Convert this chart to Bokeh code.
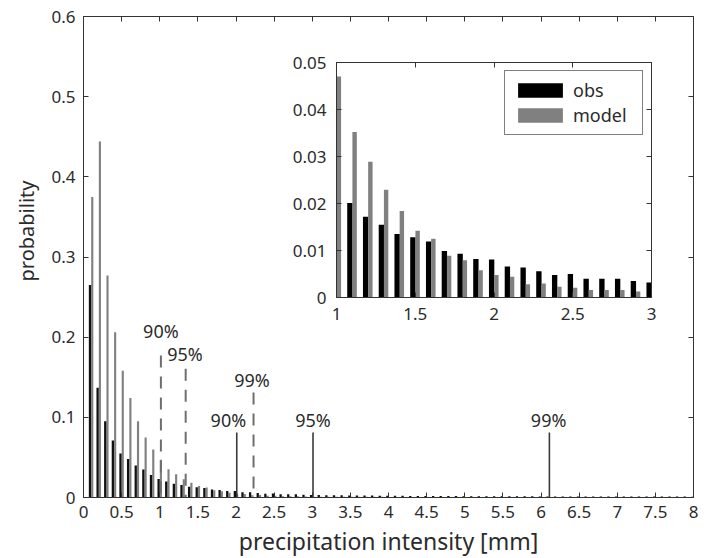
from bokeh.plotting import figure
from bokeh.models import (ColumnDataSource, FixedTicker, NumeralTickFormatter,
                          LinearAxis, Range1d, Legend, LegendItem, Title,
                          CustomLabelingPolicy)
from bokeh.layouts import column
from bokeh.transform import dodge
from bokeh.embed import file_html
from bokeh.resources import INLINE
from bokeh.core.properties import value

# ---------------- data ----------------
intensity = [round(0.1 * k, 1) for k in range(1, 81)]  # bin centres [mm]

obs = [0.265, 0.137, 0.095, 0.071, 0.055, 0.048, 0.040, 0.035, 0.028, 0.023,
       0.0201, 0.0172, 0.0155, 0.0135, 0.0128, 0.0119, 0.0099, 0.0093, 0.0082, 0.0081,
       0.0066, 0.0064, 0.0056, 0.0048, 0.0050, 0.0040, 0.0040, 0.0040, 0.0035, 0.0032,
       0.0030, 0.0029, 0.0028, 0.0027, 0.0026, 0.0025, 0.0024, 0.0024, 0.0023, 0.0022,
       0.0021, 0.0021, 0.0020, 0.0020, 0.0019, 0.0019, 0.0018, 0.0018, 0.0018, 0.0017,
       0.0017, 0.0017, 0.0016, 0.0016, 0.0016, 0.0015, 0.0015, 0.0015, 0.0015, 0.0014,
       0.0014, 0.0014, 0.0014, 0.0013, 0.0013, 0.0013, 0.0013, 0.0013, 0.0012, 0.0012,
       0.0012, 0.0012, 0.0012, 0.0011, 0.0011, 0.0011, 0.0011, 0.0011, 0.0011, 0.0010]

model = [0.375, 0.444, 0.277, 0.206, 0.158, 0.124, 0.095, 0.075, 0.060, 0.047,
         0.0352, 0.0289, 0.0229, 0.0184, 0.0142, 0.0125, 0.0089, 0.0079, 0.0058, 0.0048,
         0.0044, 0.0028, 0.0030, 0.0023, 0.0021, 0.0016, 0.0016, 0.0016, 0.0013, 0.0010,
         0.0010, 0.0010, 0.0009, 0.0009, 0.0009, 0.0008, 0.0008, 0.0008, 0.0008, 0.0007,
         0.0007, 0.0007, 0.0007, 0.0007, 0.0006, 0.0006, 0.0006, 0.0006, 0.0006, 0.0006,
         0.0006, 0.0005, 0.0005, 0.0005, 0.0005, 0.0005, 0.0005, 0.0005, 0.0005, 0.0005,
         0.0005, 0.0005, 0.0004, 0.0004, 0.0004, 0.0004, 0.0004, 0.0004, 0.0004, 0.0004,
         0.0004, 0.0004, 0.0004, 0.0004, 0.0004, 0.0004, 0.0004, 0.0004, 0.0004, 0.0004]

pct_labels = ["90%", "95%", "99%"]
obs_pct_x = [2.01, 3.01, 6.11]          # observed percentiles (solid)
model_pct_x = [1.015, 1.34, 2.23]       # model percentiles (dashed)

main_xticks = [0, 0.5, 1, 1.5, 2, 2.5, 3, 3.5, 4, 4.5, 5, 5.5, 6, 6.5, 7, 7.5, 8]
main_yticks = [0, 0.1, 0.2, 0.3, 0.4, 0.5, 0.6]
inset_xticks = [1, 1.5, 2, 2.5, 3]
inset_yticks = [0, 0.01, 0.02, 0.03, 0.04, 0.05]

# ---------------- styling ----------------
FONT = "Noto Sans"
TXT = "#2b2b2b"
AX = "#333333"
OBS_C = "#111111"
MOD_C = "#808080"

# marker heights / label placement (layout only)
obs_line_top = [0.081, 0.081, 0.081]
model_line_top = [0.177, 0.1605, 0.131]
obs_lab_x = [1.90, 3.01, 6.10]
obs_lab_y = [0.097, 0.097, 0.097]
model_lab_x = [1.015, 1.33, 2.21]
model_lab_y = [0.2075, 0.179, 0.146]

src = ColumnDataSource(dict(x=intensity, obs=obs, model=model))

NO_LABELS = CustomLabelingPolicy(code="return new Set()")


def style_axes(fig, xticks, yticks, xfmt, yfmt, fs, standoff):
    bottom, left = fig.below[0], fig.left[0]
    for ax in (bottom, left):
        ax.major_tick_in = 5
        ax.major_tick_out = 0
        ax.minor_tick_line_color = None
        ax.axis_line_color = AX
        ax.major_tick_line_color = AX
        ax.major_label_text_font = FONT
        ax.major_label_text_font_size = fs
        ax.major_label_text_color = TXT
        ax.major_label_standoff = standoff
    bottom.ticker = FixedTicker(ticks=xticks)
    left.ticker = FixedTicker(ticks=yticks)
    bottom.formatter = NumeralTickFormatter(format=xfmt)
    left.formatter = NumeralTickFormatter(format=yfmt)
    # mirrored axes: tick marks only
    for ticks, side in ((xticks, "above"), (yticks, "right")):
        ax = LinearAxis(ticker=FixedTicker(ticks=ticks), major_tick_in=5, major_tick_out=0,
                        minor_tick_line_color=None, axis_line_color=AX,
                        major_tick_line_color=AX, major_label_text_font_size="1px",
                        major_label_standoff=0, major_label_policy=NO_LABELS)
        fig.add_layout(ax, side)
    fig.xgrid.grid_line_color = None
    fig.ygrid.grid_line_color = None
    fig.outline_line_color = None
    return bottom, left


# ---------------- inset figure (placed first, main drawn transparently over it) ----
q = figure(frame_width=315, frame_height=235, x_range=Range1d(1, 3), y_range=Range1d(0, 0.05),
           output_backend="svg", toolbar_location=None, frame_align=False,
           min_border_left=53, min_border_right=17, min_border_top=24, min_border_bottom=38)
style_axes(q, inset_xticks, inset_yticks, "0.[0]", "0.[00]", "17px", 10)

r_obs = q.vbar(x=dodge("x", -0.015, range=q.x_range), top="obs", width=0.034, source=src,
               fill_color="black", line_color=None)
r_mod = q.vbar(x=dodge("x", 0.015, range=q.x_range), top="model", width=0.028, source=src,
               fill_color=MOD_C, line_color=None)

leg = Legend(items=[LegendItem(label="obs", renderers=[r_obs]),
                    LegendItem(label="model", renderers=[r_mod])],
             location="top_right", margin=8, padding=7, spacing=1,
             glyph_width=56, glyph_height=18, label_height=18, label_width=62,
             label_standoff=5,
             label_text_font=FONT, label_text_font_size="18px", label_text_color=TXT,
             border_line_color="black", border_line_width=1,
             background_fill_color="white", background_fill_alpha=1)
q.add_layout(leg, "center")

INSET_TOP, INSET_LEFT = 38, 283
INSET_H = 24 + 235 + 38
q.margin = (INSET_TOP, 0, -(INSET_TOP + INSET_H), INSET_LEFT)

# ---------------- main figure ----------------
p = figure(frame_width=610, frame_height=481, x_range=Range1d(0, 8), y_range=Range1d(0, 0.6),
           output_backend="svg", toolbar_location=None, frame_align=False,
           min_border_left=83, min_border_right=9, min_border_top=16, min_border_bottom=55)
p.background_fill_alpha = 0
p.border_fill_alpha = 0
bx, ly = style_axes(p, main_xticks, main_yticks, "0.[0]", "0.[0]", "17px", 8)
bx.axis_label = "precipitation intensity [mm]"
bx.axis_label_text_font = FONT
bx.axis_label_text_font_size = "23px"
bx.axis_label_text_font_style = "normal"
bx.axis_label_text_color = TXT
bx.axis_label_standoff = 4

p.add_layout(Title(text="probability", align="left", offset=216, vertical_align="top",
                   standoff=14, text_font=FONT, text_font_size="20px",
                   text_font_style="normal", text_color=TXT), "left")

p.vbar(x=dodge("x", 0.015, range=p.x_range), top="model", width=0.028, source=src,
       fill_color=MOD_C, line_color=None)
p.vbar(x=dodge("x", -0.015, range=p.x_range), top="obs", width=0.03, source=src,
       fill_color=OBS_C, line_color=None)

# percentile markers
p.segment(x0=model_pct_x, y0=model_line_top, x1=model_pct_x, y1=[0, 0, 0],
          line_color="#6e6e6e", line_width=2, line_dash="12 9")
p.segment(x0=obs_pct_x, y0=obs_line_top, x1=obs_pct_x, y1=[0, 0, 0],
          line_color="#3a3a3a", line_width=1.6)
for lx, lyy in ((model_lab_x, model_lab_y), (obs_lab_x, obs_lab_y)):
    p.text(x=lx, y=lyy, text=pct_labels, text_align="center", text_baseline="middle",
           text_font=value(FONT), text_font_size="18px", text_color=TXT)

layout = column(q, p)
open("out.html", "w").write(file_html(layout, INLINE))
